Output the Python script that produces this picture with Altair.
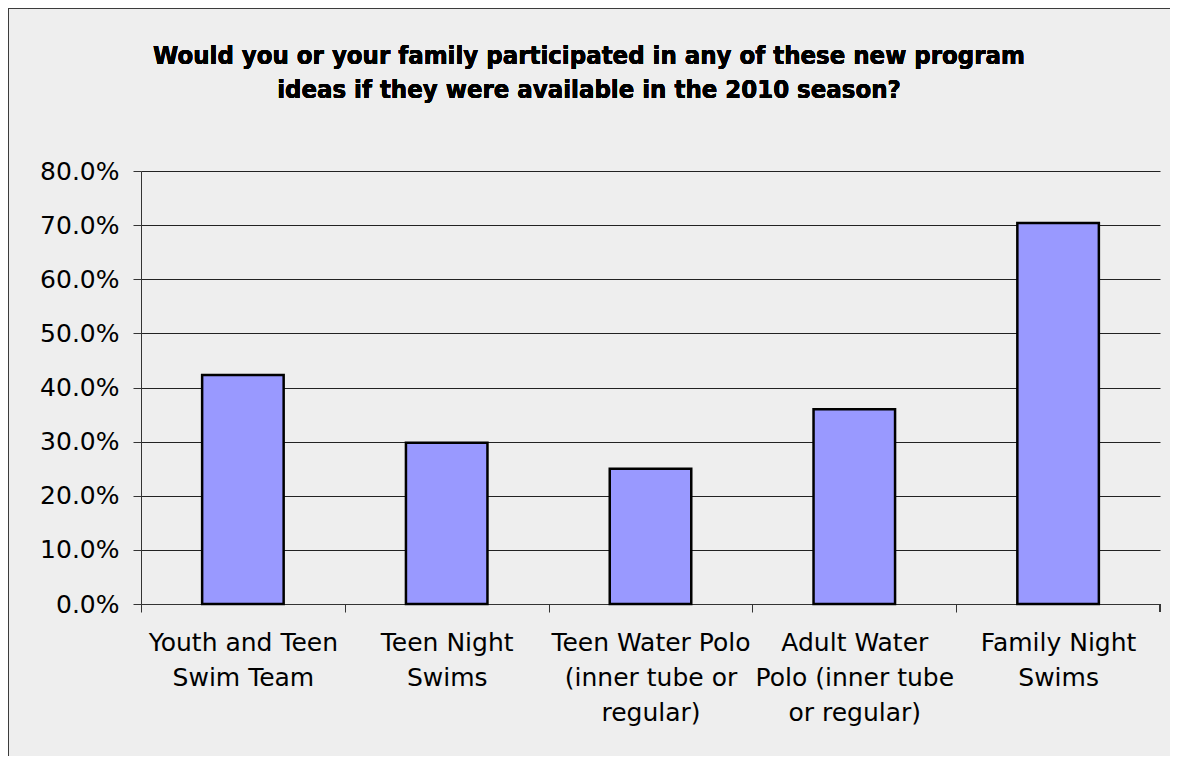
import altair as alt
import pandas as pd

categories = [
    "Youth and Teen Swim Team",
    "Teen Night Swims",
    "Teen Water Polo (inner tube or regular)",
    "Adult Water Polo (inner tube or regular)",
    "Family Night Swims",
]
label_lines = [
    ["Youth and Teen", "Swim Team"],
    ["Teen Night", "Swims"],
    ["Teen Water Polo", "(inner tube or", "regular)"],
    ["Adult Water", "Polo (inner tube", "or regular)"],
    ["Family Night", "Swims"],
]
values = [0.423, 0.298, 0.250, 0.360, 0.704]
y_ticks = [0.0, 0.1, 0.2, 0.3, 0.4, 0.5, 0.6, 0.7, 0.8]
title_lines = [
    "Would you or your family participated in any of these new program",
    "ideas if they were available in the 2010 season?",
]

df = pd.DataFrame({"program": categories, "share": values})

W, H = 1019, 433
STEP = W / len(categories)
FONT = "Tahoma, 'DejaVu Sans', sans-serif"
TITLE_FONT = "Tahoma, 'DejaVu Sans Condensed', 'DejaVu Sans', sans-serif"

mapping = ", ".join(
    "'" + c.replace("'", "\\'") + "': [" + ", ".join("'" + l + "'" for l in ls) + "]"
    for c, ls in zip(categories, label_lines)
)
label_expr = "{" + mapping + "}[datum.value]"

x_enc = alt.X(
    "program:N",
    sort=categories,
    scale=alt.Scale(paddingInner=0.6, paddingOuter=0.3),
    axis=alt.Axis(
        title=None,
        labelAngle=0,
        labelExpr=label_expr,
        labelFont=FONT,
        labelFontSize=25,
        labelColor="#000000",
        labelLineHeight=35,
        labelBaseline="top",
        labelPadding=18,
        labelLimit=400,
        ticks=True,
        tickSize=8,
        tickColor="#333333",
        tickOffset=-STEP / 2,
        labelOffset=STEP / 2,
        domain=True,
        domainColor="#333333",
        grid=False,
    ),
)

bars = alt.Chart(df).mark_bar(
    color="#9999FF", stroke="#000000", strokeWidth=2.5
).encode(
    x=x_enc,
    y=alt.Y(
        "share:Q",
        scale=alt.Scale(domain=[0, 0.8], nice=False, zero=True),
        axis=alt.Axis(
            title=None,
            values=y_ticks,
            format=".1%",
            labelFont=FONT,
            labelFontSize=25,
            labelColor="#000000",
            labelPadding=14,
            tickSize=8,
            tickColor="#333333",
            domain=True,
            domainColor="#333333",
            grid=True,
            gridColor="#222222",
            gridWidth=1,
        ),
    ),
)

end_tick = alt.Chart(df).mark_rule(color="#333333", strokeWidth=1).encode(
    x=alt.value(W), y=alt.value(H), y2=alt.value(H + 8)
)

title = alt.Chart(df).mark_text(
    text=title_lines,
    font=TITLE_FONT,
    fontSize=25.5,
    fontWeight="bold",
    color="#000000",
    lineHeight=34,
    align="center",
    baseline="alphabetic",
).encode(x=alt.value(448), y=alt.value(-106.7))

border = alt.Chart(df).mark_rect(
    fillOpacity=0, stroke="#3c3c3c", strokeWidth=2
).encode(
    x=alt.value(-133), x2=alt.value(W + 60),
    y=alt.value(-163), y2=alt.value(H + 200),
)

chart = alt.layer(bars, end_tick, title, border).properties(
    width=W,
    height=H,
    background="#eeeeee",
    padding={"left": 133, "top": 163, "right": 10, "bottom": 152},
    autosize=alt.AutoSizeParams(type="none"),
).configure_view(stroke=None)

chart.save("out.html", embed_options={"renderer": "svg", "actions": False})
